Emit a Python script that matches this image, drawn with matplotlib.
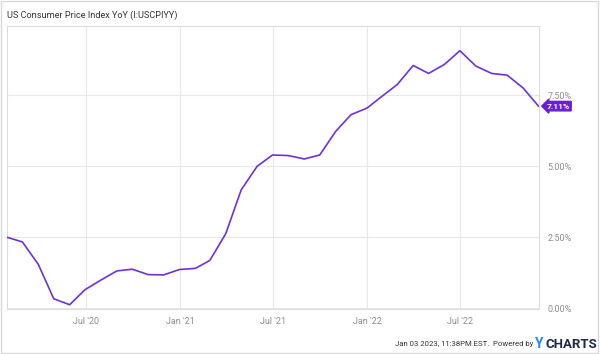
import matplotlib.pyplot as plt
import matplotlib.dates as mdates
import matplotlib.patches as mpatches
import pandas as pd

plt.rcParams['font.family'] = ['Roboto', 'DejaVu Sans']

# monthly CPI YoY, Jan 2020 .. Nov 2022 (plotted at month end)
months = pd.date_range('2020-01-31', '2022-11-30', freq='ME')
cpi_yoy = [2.49, 2.33, 1.54, 0.33, 0.12, 0.65, 0.99, 1.31, 1.37, 1.18, 1.17, 1.36,
           1.40, 1.68, 2.62, 4.16, 4.99, 5.39, 5.37, 5.25, 5.39, 6.22, 6.81, 7.04,
           7.48, 7.87, 8.54, 8.26, 8.58, 9.06, 8.52, 8.26, 8.20, 7.75, 7.11]
y_ticks = [0, 2.5, 5.0, 7.5]
x_ticks = ['2020-07-01', '2021-01-01', '2021-07-01', '2022-01-01', '2022-07-01']

purple = '#7030d8'
label_c = '#6a1fd2'
grid_c = '#e8e8e8'
text_c = '#8c8c8c'

fig = plt.figure(figsize=(6, 3.54), dpi=100)
ax = fig.add_axes([7/600, 1 - 309/354, 532/600, 283/354])

ax.plot(months, cpi_yoy, color=purple, lw=1.2, zorder=3)

ax.set_xlim(months[0] - pd.Timedelta(days=1), months[-1] + pd.Timedelta(days=1))
ax.set_ylim(-0.03, 9.93)
ax.set_xticks(pd.to_datetime(x_ticks))
ax.xaxis.set_major_formatter(mdates.DateFormatter("%b '%y"))
ax.set_yticks(y_ticks)
ax.set_yticklabels(['%.2f%%' % v for v in y_ticks])
ax.yaxis.tick_right()
ax.grid(True, color=grid_c, lw=0.8)
ax.set_axisbelow(True)
ax.tick_params(length=0, colors=text_c, labelsize=6.5, pad=6)
for s in ax.spines.values():
    s.set_color('#dcdcdc')
    s.set_linewidth(0.8)

# last value label
last = cpi_yoy[-1]
ax.annotate('%.2f%%' % last, xy=(months[-1], last), xytext=(6, 0),
            textcoords='offset points', ha='left', va='center',
            fontsize=6, fontweight='bold', color='white', annotation_clip=False,
            bbox=dict(boxstyle='larrow,pad=0.15', fc=label_c, ec=label_c))

# outer frame
fig.patches.append(mpatches.Rectangle((0.002, 0.003), 0.995, 0.994, transform=fig.transFigure,
                                      fill=False, ec='#d8d8d8', lw=1))

fig.text(7/600, 1 - 15/354, 'US Consumer Price Index YoY (I:USCPIYY)',
         fontsize=6.6, color='#333333', va='center')
fig.text(533/600, 1 - 344/354, 'Jan 03 2023, 11:38PM EST.  Powered by',
         fontsize=5.6, color='#333333', ha='right', va='center')
fig.text(535/600, 1 - 344/354, 'Y', fontsize=10, fontweight='bold', color='#1a8cff',
         ha='left', va='center')
fig.text(546/600, 1 - 344/354, 'CHARTS', fontsize=9.5, fontweight='bold', color='#1b2a4a',
         ha='left', va='center')

fig.savefig('out.png', dpi=100)
